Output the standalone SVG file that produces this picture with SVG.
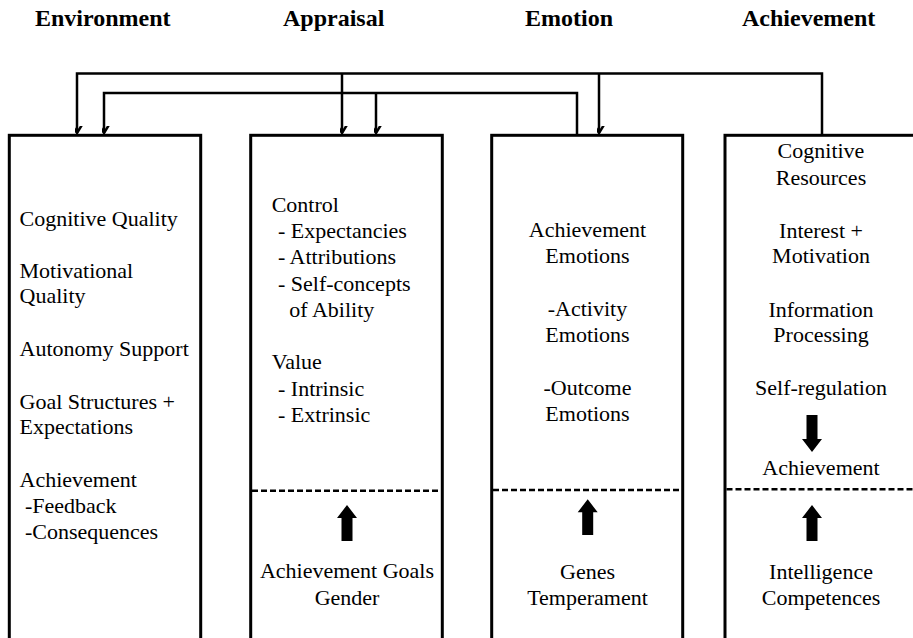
<svg xmlns="http://www.w3.org/2000/svg" width="913" height="638" viewBox="0 0 913 638">
  <style>
    text { font-family: "Liberation Serif", "Times New Roman", serif; fill: #000; }
    .hdr { font-size: 24px; font-weight: bold; }
    .t { font-size: 22px; }
    .c { text-anchor: middle; }
    .box { fill: #fff; stroke: #000; stroke-width: 3; }
    .dash { stroke: #000; stroke-width: 2.5; stroke-dasharray: 6 3; fill: none; }
    .link { fill: none; stroke: #000; stroke-width: 2.5; }
    .block { fill: #000; stroke: none; }
  </style>
  <defs>
    <marker id="open" viewBox="-7 -11 14 13" refX="0" refY="0" markerWidth="14" markerHeight="13" markerUnits="userSpaceOnUse" orient="auto-start-reverse">
      <path d="M-5.5,-9 L0,0 L5.5,-9" fill="none" stroke="#000" stroke-width="2.5" transform="rotate(-90)"/>
    </marker>
  </defs>

  <rect width="913" height="638" fill="#fff"/>

  <!-- column headings -->
  <g id="headings">
    <text class="hdr" x="35" y="26">Environment</text>
    <text class="hdr" x="283" y="26">Appraisal</text>
    <text class="hdr" x="525" y="26">Emotion</text>
    <text class="hdr" x="742" y="26">Achievement</text>
  </g>

  <!-- feedback connectors -->
  <g id="connectors">
    <path class="link" d="M822,135 V73.5 H77 V133" marker-end="url(#open)"/>
    <path class="link" d="M342,73.5 V133" marker-end="url(#open)"/>
    <path class="link" d="M599,73.5 V133" marker-end="url(#open)"/>
    <path class="link" d="M577,135 V93 H104 V133" marker-end="url(#open)"/>
    <path class="link" d="M376,93 V133" marker-end="url(#open)"/>
  </g>

  <!-- Environment -->
  <g id="environment">
    <rect class="box" x="9.3" y="135.3" width="191.4" height="520"/>
    <text class="t" x="19.5" y="225.7">Cognitive Quality</text>
    <text class="t" x="19.5" y="277.7">Motivational</text>
    <text class="t" x="19.5" y="303.3">Quality</text>
    <text class="t" x="19.5" y="356">Autonomy Support</text>
    <text class="t" x="19.5" y="409">Goal Structures +</text>
    <text class="t" x="19.5" y="434.3">Expectations</text>
    <text class="t" x="19.5" y="487.3">Achievement</text>
    <text class="t" x="25" y="513.3">-Feedback</text>
    <text class="t" x="25" y="539.3">-Consequences</text>
  </g>

  <!-- Appraisal -->
  <g id="appraisal">
    <rect class="box" x="250.7" y="135.3" width="191.6" height="520"/>
    <text class="t" x="271.7" y="212.3">Control</text>
    <text class="t" x="278" y="238.3">- Expectancies</text>
    <text class="t" x="278" y="264.3">- Attributions</text>
    <text class="t" x="278" y="290.7">- Self-concepts</text>
    <text class="t" x="289.3" y="316.7">of Ability</text>
    <text class="t" x="271.7" y="369.3">Value</text>
    <text class="t" x="278" y="395.7">- Intrinsic</text>
    <text class="t" x="278" y="421.7">- Extrinsic</text>
    <line class="dash" x1="252" y1="490.7" x2="441" y2="490.7"/>
    <path class="block" d="M347,505 L357,518 L352.5,518 L352.5,541 L341.5,541 L341.5,518 L337,518 Z"/>
    <text class="t c" x="347" y="578">Achievement Goals</text>
    <text class="t c" x="347" y="605">Gender</text>
  </g>

  <!-- Emotion -->
  <g id="emotion">
    <rect class="box" x="491.7" y="135.3" width="191" height="520"/>
    <text class="t c" x="587.5" y="237.3">Achievement</text>
    <text class="t c" x="587.5" y="263.3">Emotions</text>
    <text class="t c" x="587.5" y="315.7">-Activity</text>
    <text class="t c" x="587.5" y="342">Emotions</text>
    <text class="t c" x="587.5" y="395">-Outcome</text>
    <text class="t c" x="587.5" y="421">Emotions</text>
    <line class="dash" x1="493" y1="490" x2="681.5" y2="490"/>
    <path class="block" d="M587.7,499.3 L597.7,512.3 L593.2,512.3 L593.2,535 L582.2,535 L582.2,512.3 L577.7,512.3 Z"/>
    <text class="t c" x="587.5" y="579.3">Genes</text>
    <text class="t c" x="587.5" y="605">Temperament</text>
  </g>

  <!-- Achievement -->
  <g id="achievement">
    <rect class="box" x="725" y="135.3" width="200" height="520"/>
    <text class="t c" x="821" y="158.3">Cognitive</text>
    <text class="t c" x="821" y="185">Resources</text>
    <text class="t c" x="821" y="238.3">Interest +</text>
    <text class="t c" x="821" y="263.3">Motivation</text>
    <text class="t c" x="821" y="316.7">Information</text>
    <text class="t c" x="821" y="341.7">Processing</text>
    <text class="t c" x="821" y="395">Self-regulation</text>
    <path class="block" d="M812,452 L822,439 L817.5,439 L817.5,415 L806.5,415 L806.5,439 L802,439 Z"/>
    <text class="t c" x="821" y="475">Achievement</text>
    <line class="dash" x1="726.5" y1="489.3" x2="913" y2="489.3"/>
    <path class="block" d="M812,505 L822,518 L817.5,518 L817.5,541 L806.5,541 L806.5,518 L802,518 Z"/>
    <text class="t c" x="821" y="579.3">Intelligence</text>
    <text class="t c" x="821" y="605">Competences</text>
  </g>
</svg>
